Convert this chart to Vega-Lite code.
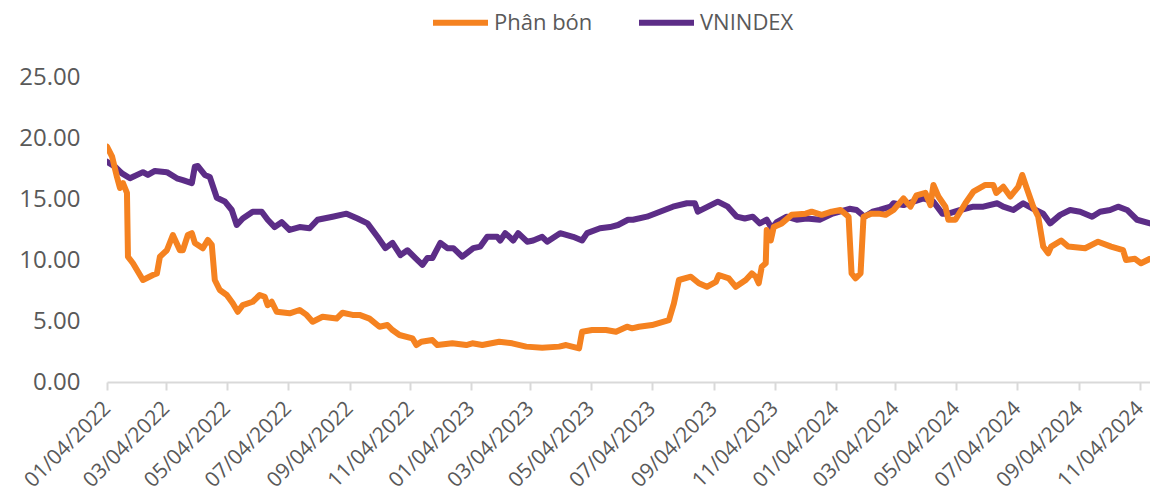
{
  "$schema": "https://vega.github.io/schema/vega-lite/v6.json",
  "autosize": {"type": "none"},
  "padding": {"left": 107, "top": 77, "right": 0, "bottom": 114},
  "width": 1043,
  "height": 305,
  "background": "white",
  "config": {
    "font": "Open Sans",
    "view": {"stroke": null},
    "axis": {"grid": false, "labelColor": "#595959", "labelFont": "Open Sans"}
  },
  "data": {
    "values": [
      {"date": "2022-01-04", "series": "VNINDEX", "value": 18.06},
      {"date": "2022-01-12", "series": "VNINDEX", "value": 17.65},
      {"date": "2022-01-19", "series": "VNINDEX", "value": 17.1},
      {"date": "2022-01-27", "series": "VNINDEX", "value": 16.7},
      {"date": "2022-02-09", "series": "VNINDEX", "value": 17.2},
      {"date": "2022-02-14", "series": "VNINDEX", "value": 16.97},
      {"date": "2022-02-21", "series": "VNINDEX", "value": 17.3},
      {"date": "2022-03-05", "series": "VNINDEX", "value": 17.2},
      {"date": "2022-03-15", "series": "VNINDEX", "value": 16.7},
      {"date": "2022-03-21", "series": "VNINDEX", "value": 16.55},
      {"date": "2022-03-30", "series": "VNINDEX", "value": 16.3},
      {"date": "2022-04-02", "series": "VNINDEX", "value": 17.65},
      {"date": "2022-04-05", "series": "VNINDEX", "value": 17.7},
      {"date": "2022-04-12", "series": "VNINDEX", "value": 16.97},
      {"date": "2022-04-17", "series": "VNINDEX", "value": 16.8},
      {"date": "2022-04-24", "series": "VNINDEX", "value": 15.1},
      {"date": "2022-05-02", "series": "VNINDEX", "value": 14.8},
      {"date": "2022-05-09", "series": "VNINDEX", "value": 14.1},
      {"date": "2022-05-14", "series": "VNINDEX", "value": 12.87},
      {"date": "2022-05-20", "series": "VNINDEX", "value": 13.4},
      {"date": "2022-05-30", "series": "VNINDEX", "value": 13.96},
      {"date": "2022-06-08", "series": "VNINDEX", "value": 13.96},
      {"date": "2022-06-14", "series": "VNINDEX", "value": 13.3},
      {"date": "2022-06-21", "series": "VNINDEX", "value": 12.7},
      {"date": "2022-06-28", "series": "VNINDEX", "value": 13.1},
      {"date": "2022-07-06", "series": "VNINDEX", "value": 12.46},
      {"date": "2022-07-16", "series": "VNINDEX", "value": 12.7},
      {"date": "2022-07-26", "series": "VNINDEX", "value": 12.6},
      {"date": "2022-08-03", "series": "VNINDEX", "value": 13.3},
      {"date": "2022-08-18", "series": "VNINDEX", "value": 13.55},
      {"date": "2022-09-01", "series": "VNINDEX", "value": 13.8},
      {"date": "2022-09-12", "series": "VNINDEX", "value": 13.4},
      {"date": "2022-09-22", "series": "VNINDEX", "value": 13.0},
      {"date": "2022-10-02", "series": "VNINDEX", "value": 11.9},
      {"date": "2022-10-10", "series": "VNINDEX", "value": 10.97},
      {"date": "2022-10-17", "series": "VNINDEX", "value": 11.4},
      {"date": "2022-10-25", "series": "VNINDEX", "value": 10.4},
      {"date": "2022-11-01", "series": "VNINDEX", "value": 10.8},
      {"date": "2022-11-09", "series": "VNINDEX", "value": 10.16},
      {"date": "2022-11-16", "series": "VNINDEX", "value": 9.6},
      {"date": "2022-11-21", "series": "VNINDEX", "value": 10.16},
      {"date": "2022-11-26", "series": "VNINDEX", "value": 10.16},
      {"date": "2022-12-04", "series": "VNINDEX", "value": 11.4},
      {"date": "2022-12-11", "series": "VNINDEX", "value": 10.97},
      {"date": "2022-12-17", "series": "VNINDEX", "value": 10.97},
      {"date": "2022-12-26", "series": "VNINDEX", "value": 10.27},
      {"date": "2023-01-06", "series": "VNINDEX", "value": 10.97},
      {"date": "2023-01-13", "series": "VNINDEX", "value": 11.1},
      {"date": "2023-01-20", "series": "VNINDEX", "value": 11.9},
      {"date": "2023-01-30", "series": "VNINDEX", "value": 11.9},
      {"date": "2023-02-02", "series": "VNINDEX", "value": 11.6},
      {"date": "2023-02-07", "series": "VNINDEX", "value": 12.2},
      {"date": "2023-02-15", "series": "VNINDEX", "value": 11.6},
      {"date": "2023-02-20", "series": "VNINDEX", "value": 12.2},
      {"date": "2023-03-01", "series": "VNINDEX", "value": 11.5},
      {"date": "2023-03-07", "series": "VNINDEX", "value": 11.6},
      {"date": "2023-03-16", "series": "VNINDEX", "value": 11.9},
      {"date": "2023-03-21", "series": "VNINDEX", "value": 11.5},
      {"date": "2023-04-03", "series": "VNINDEX", "value": 12.2},
      {"date": "2023-04-16", "series": "VNINDEX", "value": 11.9},
      {"date": "2023-04-25", "series": "VNINDEX", "value": 11.6},
      {"date": "2023-04-30", "series": "VNINDEX", "value": 12.2},
      {"date": "2023-05-13", "series": "VNINDEX", "value": 12.6},
      {"date": "2023-05-23", "series": "VNINDEX", "value": 12.7},
      {"date": "2023-05-31", "series": "VNINDEX", "value": 12.87},
      {"date": "2023-06-10", "series": "VNINDEX", "value": 13.3},
      {"date": "2023-06-15", "series": "VNINDEX", "value": 13.3},
      {"date": "2023-06-29", "series": "VNINDEX", "value": 13.55},
      {"date": "2023-07-12", "series": "VNINDEX", "value": 13.96},
      {"date": "2023-07-25", "series": "VNINDEX", "value": 14.37},
      {"date": "2023-08-08", "series": "VNINDEX", "value": 14.65},
      {"date": "2023-08-16", "series": "VNINDEX", "value": 14.65},
      {"date": "2023-08-19", "series": "VNINDEX", "value": 13.96},
      {"date": "2023-08-29", "series": "VNINDEX", "value": 14.37},
      {"date": "2023-09-08", "series": "VNINDEX", "value": 14.78},
      {"date": "2023-09-18", "series": "VNINDEX", "value": 14.37},
      {"date": "2023-09-27", "series": "VNINDEX", "value": 13.55},
      {"date": "2023-10-05", "series": "VNINDEX", "value": 13.4},
      {"date": "2023-10-13", "series": "VNINDEX", "value": 13.55},
      {"date": "2023-10-20", "series": "VNINDEX", "value": 13.0},
      {"date": "2023-10-27", "series": "VNINDEX", "value": 13.3},
      {"date": "2023-11-01", "series": "VNINDEX", "value": 12.6},
      {"date": "2023-11-06", "series": "VNINDEX", "value": 13.1},
      {"date": "2023-11-16", "series": "VNINDEX", "value": 13.55},
      {"date": "2023-11-26", "series": "VNINDEX", "value": 13.3},
      {"date": "2023-12-06", "series": "VNINDEX", "value": 13.4},
      {"date": "2023-12-19", "series": "VNINDEX", "value": 13.3},
      {"date": "2024-01-01", "series": "VNINDEX", "value": 13.8},
      {"date": "2024-01-18", "series": "VNINDEX", "value": 14.2},
      {"date": "2024-01-25", "series": "VNINDEX", "value": 14.1},
      {"date": "2024-02-02", "series": "VNINDEX", "value": 13.55},
      {"date": "2024-02-10", "series": "VNINDEX", "value": 13.96},
      {"date": "2024-02-17", "series": "VNINDEX", "value": 14.1},
      {"date": "2024-02-28", "series": "VNINDEX", "value": 14.37},
      {"date": "2024-03-02", "series": "VNINDEX", "value": 14.65},
      {"date": "2024-03-12", "series": "VNINDEX", "value": 14.5},
      {"date": "2024-03-22", "series": "VNINDEX", "value": 14.78},
      {"date": "2024-04-01", "series": "VNINDEX", "value": 15.05},
      {"date": "2024-04-11", "series": "VNINDEX", "value": 14.78},
      {"date": "2024-04-20", "series": "VNINDEX", "value": 13.8},
      {"date": "2024-04-26", "series": "VNINDEX", "value": 13.8},
      {"date": "2024-05-08", "series": "VNINDEX", "value": 14.1},
      {"date": "2024-05-21", "series": "VNINDEX", "value": 14.37},
      {"date": "2024-05-31", "series": "VNINDEX", "value": 14.37},
      {"date": "2024-06-14", "series": "VNINDEX", "value": 14.65},
      {"date": "2024-06-20", "series": "VNINDEX", "value": 14.37},
      {"date": "2024-06-30", "series": "VNINDEX", "value": 14.1},
      {"date": "2024-07-10", "series": "VNINDEX", "value": 14.65},
      {"date": "2024-07-20", "series": "VNINDEX", "value": 14.2},
      {"date": "2024-07-30", "series": "VNINDEX", "value": 13.8},
      {"date": "2024-08-06", "series": "VNINDEX", "value": 13.0},
      {"date": "2024-08-16", "series": "VNINDEX", "value": 13.7},
      {"date": "2024-08-26", "series": "VNINDEX", "value": 14.1},
      {"date": "2024-09-05", "series": "VNINDEX", "value": 13.96},
      {"date": "2024-09-17", "series": "VNINDEX", "value": 13.55},
      {"date": "2024-09-25", "series": "VNINDEX", "value": 13.96},
      {"date": "2024-10-05", "series": "VNINDEX", "value": 14.1},
      {"date": "2024-10-13", "series": "VNINDEX", "value": 14.37},
      {"date": "2024-10-22", "series": "VNINDEX", "value": 14.1},
      {"date": "2024-11-01", "series": "VNINDEX", "value": 13.3},
      {"date": "2024-11-14", "series": "VNINDEX", "value": 13.0},
      {"date": "2022-01-04", "series": "Phân bón", "value": 19.3},
      {"date": "2022-01-09", "series": "Phân bón", "value": 18.5},
      {"date": "2022-01-14", "series": "Phân bón", "value": 16.8},
      {"date": "2022-01-17", "series": "Phân bón", "value": 15.9},
      {"date": "2022-01-20", "series": "Phân bón", "value": 16.3},
      {"date": "2022-01-24", "series": "Phân bón", "value": 15.5},
      {"date": "2022-01-25", "series": "Phân bón", "value": 10.27},
      {"date": "2022-01-30", "series": "Phân bón", "value": 9.73},
      {"date": "2022-02-09", "series": "Phân bón", "value": 8.36},
      {"date": "2022-02-19", "series": "Phân bón", "value": 8.77},
      {"date": "2022-02-23", "series": "Phân bón", "value": 8.9},
      {"date": "2022-02-26", "series": "Phân bón", "value": 10.27},
      {"date": "2022-03-05", "series": "Phân bón", "value": 10.8},
      {"date": "2022-03-11", "series": "Phân bón", "value": 12.05},
      {"date": "2022-03-18", "series": "Phân bón", "value": 10.8},
      {"date": "2022-03-21", "series": "Phân bón", "value": 10.8},
      {"date": "2022-03-26", "series": "Phân bón", "value": 12.05},
      {"date": "2022-03-30", "series": "Phân bón", "value": 12.2},
      {"date": "2022-04-02", "series": "Phân bón", "value": 11.4},
      {"date": "2022-04-10", "series": "Phân bón", "value": 10.96},
      {"date": "2022-04-15", "series": "Phân bón", "value": 11.64},
      {"date": "2022-04-19", "series": "Phân bón", "value": 11.23},
      {"date": "2022-04-22", "series": "Phân bón", "value": 8.36},
      {"date": "2022-04-27", "series": "Phân bón", "value": 7.54},
      {"date": "2022-05-04", "series": "Phân bón", "value": 7.13},
      {"date": "2022-05-10", "series": "Phân bón", "value": 6.45},
      {"date": "2022-05-15", "series": "Phân bón", "value": 5.76},
      {"date": "2022-05-20", "series": "Phân bón", "value": 6.3},
      {"date": "2022-05-30", "series": "Phân bón", "value": 6.58},
      {"date": "2022-06-06", "series": "Phân bón", "value": 7.13},
      {"date": "2022-06-11", "series": "Phân bón", "value": 6.99},
      {"date": "2022-06-14", "series": "Phân bón", "value": 6.3},
      {"date": "2022-06-18", "series": "Phân bón", "value": 6.58},
      {"date": "2022-06-23", "series": "Phân bón", "value": 5.76},
      {"date": "2022-07-06", "series": "Phân bón", "value": 5.63},
      {"date": "2022-07-16", "series": "Phân bón", "value": 5.9},
      {"date": "2022-07-23", "series": "Phân bón", "value": 5.5},
      {"date": "2022-07-29", "series": "Phân bón", "value": 4.94},
      {"date": "2022-08-08", "series": "Phân bón", "value": 5.35},
      {"date": "2022-08-22", "series": "Phân bón", "value": 5.2},
      {"date": "2022-08-28", "series": "Phân bón", "value": 5.68},
      {"date": "2022-09-07", "series": "Phân bón", "value": 5.5},
      {"date": "2022-09-14", "series": "Phân bón", "value": 5.5},
      {"date": "2022-09-24", "series": "Phân bón", "value": 5.2},
      {"date": "2022-10-04", "series": "Phân bón", "value": 4.53},
      {"date": "2022-10-12", "series": "Phân bón", "value": 4.67},
      {"date": "2022-10-17", "series": "Phân bón", "value": 4.26},
      {"date": "2022-10-24", "series": "Phân bón", "value": 3.85},
      {"date": "2022-11-06", "series": "Phân bón", "value": 3.58},
      {"date": "2022-11-10", "series": "Phân bón", "value": 3.03},
      {"date": "2022-11-15", "series": "Phân bón", "value": 3.3},
      {"date": "2022-11-26", "series": "Phân bón", "value": 3.44},
      {"date": "2022-12-01", "series": "Phân bón", "value": 3.03},
      {"date": "2022-12-16", "series": "Phân bón", "value": 3.17},
      {"date": "2022-12-30", "series": "Phân bón", "value": 3.03},
      {"date": "2023-01-05", "series": "Phân bón", "value": 3.17},
      {"date": "2023-01-15", "series": "Phân bón", "value": 3.03},
      {"date": "2023-02-01", "series": "Phân bón", "value": 3.3},
      {"date": "2023-02-14", "series": "Phân bón", "value": 3.17},
      {"date": "2023-02-28", "series": "Phân bón", "value": 2.9},
      {"date": "2023-03-16", "series": "Phân bón", "value": 2.81},
      {"date": "2023-04-02", "series": "Phân bón", "value": 2.9},
      {"date": "2023-04-09", "series": "Phân bón", "value": 3.03},
      {"date": "2023-04-22", "series": "Phân bón", "value": 2.76},
      {"date": "2023-04-25", "series": "Phân bón", "value": 4.12},
      {"date": "2023-05-05", "series": "Phân bón", "value": 4.26},
      {"date": "2023-05-19", "series": "Phân bón", "value": 4.26},
      {"date": "2023-05-29", "series": "Phân bón", "value": 4.12},
      {"date": "2023-06-09", "series": "Phân bón", "value": 4.53},
      {"date": "2023-06-14", "series": "Phân bón", "value": 4.4},
      {"date": "2023-06-21", "series": "Phân bón", "value": 4.53},
      {"date": "2023-07-04", "series": "Phân bón", "value": 4.67},
      {"date": "2023-07-21", "series": "Phân bón", "value": 5.08},
      {"date": "2023-07-26", "series": "Phân bón", "value": 6.45},
      {"date": "2023-07-31", "series": "Phân bón", "value": 8.36},
      {"date": "2023-08-12", "series": "Phân bón", "value": 8.63},
      {"date": "2023-08-20", "series": "Phân bón", "value": 8.09},
      {"date": "2023-08-28", "series": "Phân bón", "value": 7.8},
      {"date": "2023-09-06", "series": "Phân bón", "value": 8.2},
      {"date": "2023-09-09", "series": "Phân bón", "value": 8.77},
      {"date": "2023-09-19", "series": "Phân bón", "value": 8.5},
      {"date": "2023-09-26", "series": "Phân bón", "value": 7.8},
      {"date": "2023-10-06", "series": "Phân bón", "value": 8.36},
      {"date": "2023-10-12", "series": "Phân bón", "value": 8.9},
      {"date": "2023-10-16", "series": "Phân bón", "value": 8.63},
      {"date": "2023-10-19", "series": "Phân bón", "value": 8.09},
      {"date": "2023-10-22", "series": "Phân bón", "value": 9.45},
      {"date": "2023-10-26", "series": "Phân bón", "value": 9.73},
      {"date": "2023-10-27", "series": "Phân bón", "value": 12.46},
      {"date": "2023-10-31", "series": "Phân bón", "value": 11.6},
      {"date": "2023-11-03", "series": "Phân bón", "value": 12.7},
      {"date": "2023-11-11", "series": "Phân bón", "value": 13.0},
      {"date": "2023-11-21", "series": "Phân bón", "value": 13.7},
      {"date": "2023-12-05", "series": "Phân bón", "value": 13.8},
      {"date": "2023-12-11", "series": "Phân bón", "value": 13.96},
      {"date": "2023-12-21", "series": "Phân bón", "value": 13.7},
      {"date": "2023-12-31", "series": "Phân bón", "value": 13.96},
      {"date": "2024-01-09", "series": "Phân bón", "value": 14.1},
      {"date": "2024-01-17", "series": "Phân bón", "value": 13.55},
      {"date": "2024-01-20", "series": "Phân bón", "value": 8.9},
      {"date": "2024-01-24", "series": "Phân bón", "value": 8.5},
      {"date": "2024-01-29", "series": "Phân bón", "value": 8.9},
      {"date": "2024-02-01", "series": "Phân bón", "value": 13.55},
      {"date": "2024-02-09", "series": "Phân bón", "value": 13.8},
      {"date": "2024-02-16", "series": "Phân bón", "value": 13.8},
      {"date": "2024-02-23", "series": "Phân bón", "value": 13.7},
      {"date": "2024-03-02", "series": "Phân bón", "value": 14.1},
      {"date": "2024-03-12", "series": "Phân bón", "value": 15.05},
      {"date": "2024-03-19", "series": "Phân bón", "value": 14.37},
      {"date": "2024-03-25", "series": "Phân bón", "value": 15.3},
      {"date": "2024-04-03", "series": "Phân bón", "value": 15.5},
      {"date": "2024-04-08", "series": "Phân bón", "value": 14.5},
      {"date": "2024-04-11", "series": "Phân bón", "value": 16.15},
      {"date": "2024-04-16", "series": "Phân bón", "value": 15.2},
      {"date": "2024-04-23", "series": "Phân bón", "value": 14.37},
      {"date": "2024-04-26", "series": "Phân bón", "value": 13.3},
      {"date": "2024-05-03", "series": "Phân bón", "value": 13.3},
      {"date": "2024-05-13", "series": "Phân bón", "value": 14.65},
      {"date": "2024-05-21", "series": "Phân bón", "value": 15.6},
      {"date": "2024-06-02", "series": "Phân bón", "value": 16.15},
      {"date": "2024-06-10", "series": "Phân bón", "value": 16.15},
      {"date": "2024-06-13", "series": "Phân bón", "value": 15.5},
      {"date": "2024-06-20", "series": "Phân bón", "value": 16.0},
      {"date": "2024-06-27", "series": "Phân bón", "value": 15.2},
      {"date": "2024-07-05", "series": "Phân bón", "value": 16.0},
      {"date": "2024-07-09", "series": "Phân bón", "value": 16.97},
      {"date": "2024-07-13", "series": "Phân bón", "value": 16.0},
      {"date": "2024-07-20", "series": "Phân bón", "value": 14.37},
      {"date": "2024-07-25", "series": "Phân bón", "value": 13.55},
      {"date": "2024-07-30", "series": "Phân bón", "value": 11.1},
      {"date": "2024-08-04", "series": "Phân bón", "value": 10.55},
      {"date": "2024-08-07", "series": "Phân bón", "value": 11.1},
      {"date": "2024-08-17", "series": "Phân bón", "value": 11.6},
      {"date": "2024-08-24", "series": "Phân bón", "value": 11.1},
      {"date": "2024-09-10", "series": "Phân bón", "value": 10.96},
      {"date": "2024-09-23", "series": "Phân bón", "value": 11.5},
      {"date": "2024-10-06", "series": "Phân bón", "value": 11.1},
      {"date": "2024-10-18", "series": "Phân bón", "value": 10.8},
      {"date": "2024-10-21", "series": "Phân bón", "value": 10.0},
      {"date": "2024-10-30", "series": "Phân bón", "value": 10.1},
      {"date": "2024-11-05", "series": "Phân bón", "value": 9.73},
      {"date": "2024-11-14", "series": "Phân bón", "value": 10.1}
    ]
  },
  "mark": {"type": "line", "strokeWidth": 6, "strokeJoin": "round", "strokeCap": "round", "clip": true},
  "encoding": {
    "x": {
      "field": "date",
      "type": "temporal",
      "scale": {
        "type": "utc",
        "domain": [
          {"year": 2022, "month": 1, "date": 4, "utc": true},
          {"year": 2024, "month": 11, "date": 14, "utc": true}
        ]
      },
      "axis": {
        "title": null,
        "values": [
          {"year": 2022, "month": 1, "date": 4, "utc": true},
          {"year": 2022, "month": 3, "date": 4, "utc": true},
          {"year": 2022, "month": 5, "date": 4, "utc": true},
          {"year": 2022, "month": 7, "date": 4, "utc": true},
          {"year": 2022, "month": 9, "date": 4, "utc": true},
          {"year": 2022, "month": 11, "date": 4, "utc": true},
          {"year": 2023, "month": 1, "date": 4, "utc": true},
          {"year": 2023, "month": 3, "date": 4, "utc": true},
          {"year": 2023, "month": 5, "date": 4, "utc": true},
          {"year": 2023, "month": 7, "date": 4, "utc": true},
          {"year": 2023, "month": 9, "date": 4, "utc": true},
          {"year": 2023, "month": 11, "date": 4, "utc": true},
          {"year": 2024, "month": 1, "date": 4, "utc": true},
          {"year": 2024, "month": 3, "date": 4, "utc": true},
          {"year": 2024, "month": 5, "date": 4, "utc": true},
          {"year": 2024, "month": 7, "date": 4, "utc": true},
          {"year": 2024, "month": 9, "date": 4, "utc": true},
          {"year": 2024, "month": 11, "date": 4, "utc": true}
        ],
        "labelExpr": "utcFormat(datum.value, '%m/%d/%Y')",
        "labelAngle": -45,
        "labelAlign": "right",
        "labelBaseline": "middle",
        "labelFontSize": 21,
        "labelPadding": 15,
        "labelOffset": 0,
        "labelOverlap": false,
        "labelBound": false,
        "labelFlush": false,
        "domainColor": "#d9d9d9",
        "domainWidth": 2,
        "tickColor": "#d9d9d9",
        "tickWidth": 2,
        "tickSize": 8
      }
    },
    "y": {
      "field": "value",
      "type": "quantitative",
      "scale": {"domain": [0, 25], "nice": false, "zero": true},
      "axis": {
        "title": null,
        "values": [0, 5, 10, 15, 20, 25],
        "format": ".2f",
        "labelFontSize": 24,
        "labelPadding": 27,
        "domain": false,
        "ticks": false
      }
    },
    "color": {
      "field": "series",
      "type": "nominal",
      "scale": {"domain": ["Phân bón", "VNINDEX"], "range": ["#F58220", "#5C2D87"]},
      "legend": {
        "title": null,
        "orient": "none",
        "legendX": 323,
        "legendY": -85,
        "direction": "horizontal",
        "symbolType": "stroke",
        "symbolSize": 3025,
        "symbolStrokeWidth": 6,
        "labelFontSize": 22,
        "labelColor": "#595959",
        "labelOffset": 3,
        "columnPadding": 34,
        "padding": 0
      }
    }
  }
}
